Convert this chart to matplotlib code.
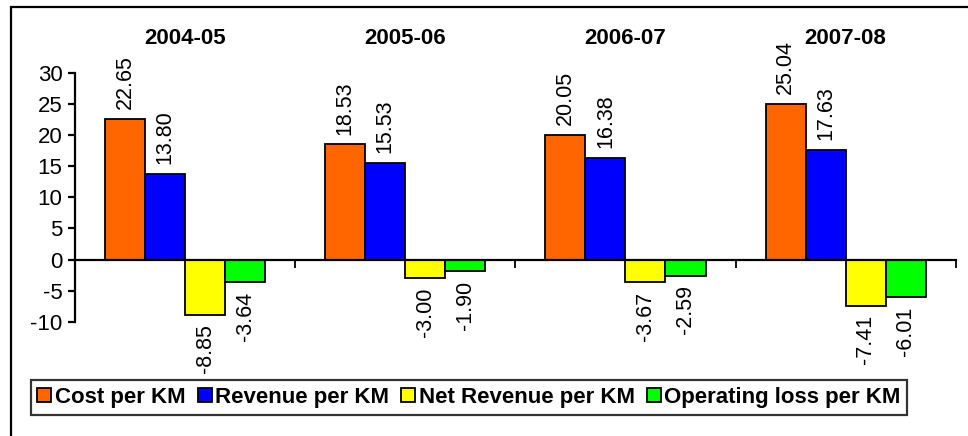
import numpy as np
import matplotlib
matplotlib.use('Agg')
import matplotlib.pyplot as plt
from matplotlib.patches import Rectangle

# data
years = ['2004-05', '2005-06', '2006-07', '2007-08']
cost_per_km = [22.65, 18.53, 20.05, 25.04]
revenue_per_km = [13.80, 15.53, 16.38, 17.63]
net_revenue_per_km = [-8.85, -3.00, -3.67, -7.41]
op_loss_per_km = [-3.64, -1.90, -2.59, -6.01]

series_names = ['Cost per KM', 'Revenue per KM', 'Net Revenue per KM', 'Operating loss per KM']
colors = ['#FF6600', '#0000FF', '#FFFF00', '#00FF00']
yticks = [-10, -5, 0, 5, 10, 15, 20, 25, 30]

plt.rcParams['font.family'] = ['Liberation Sans', 'DejaVu Sans']


def draw_chart():
    fig = plt.figure(figsize=(9.68, 4.36), dpi=100)
    ax = fig.add_axes([0.0775, 0.2622, 0.9098, 0.5704])

    # outer frame, cut off at right and bottom like the source
    fig.patches.append(Rectangle((11 / 968, -0.2), 1.2, 0.2 + 429 / 436,
                                 transform=fig.transFigure, fill=False,
                                 edgecolor='black', linewidth=1.6))

    x = np.arange(len(years))
    w = 0.1818
    data = [cost_per_km, revenue_per_km, net_revenue_per_km, op_loss_per_km]
    bars = []
    for k, vals in enumerate(data):
        b = ax.bar(x + (k - 1.5) * w, vals, w, color=colors[k], edgecolor='black',
                   linewidth=1.3, label=series_names[k], zorder=2)
        bars.append(b)
        for rect, v in zip(b, vals):
            cx = rect.get_x() + rect.get_width() / 2
            if v >= 0:
                ax.annotate('%.2f' % v, (cx, v), xytext=(0, 7), textcoords='offset points',
                            rotation=90, ha='center', va='bottom', fontsize=15.5,
                            annotation_clip=False)
            else:
                ax.annotate('%.2f' % v, (cx, v), xytext=(0, -7), textcoords='offset points',
                            rotation=90, ha='center', va='top', fontsize=15.5,
                            annotation_clip=False)

    # year headings over each group
    for i, y in enumerate(years):
        ax.text(i, 35.6, y, ha='center', va='center', fontsize=16,
                fontweight='bold', clip_on=False)

    ax.set_xlim(-0.5, len(years) - 0.5)
    ax.set_ylim(-10, 30)
    ax.set_yticks(yticks)
    ax.set_yticklabels([str(t) for t in yticks], fontsize=16)
    ax.set_xticks(np.arange(len(years) + 1) - 0.5)
    ax.set_xticklabels([])

    ax.spines['top'].set_visible(False)
    ax.spines['right'].set_visible(False)
    ax.spines['bottom'].set_position(('data', 0))
    ax.spines['left'].set_linewidth(1.6)
    ax.spines['bottom'].set_linewidth(1.6)
    ax.tick_params(axis='y', direction='out', length=5, width=1.6, pad=4)
    ax.tick_params(axis='x', direction='out', length=6, width=1.3)
    ax.patch.set_visible(False)

    leg = fig.legend(handles=bars, labels=series_names, loc='center',
                     bbox_to_anchor=(0.0372, 0.0436, 0.8946, 0.0894), ncol=4,
                     prop={'weight': 'bold', 'size': 16}, frameon=True, fancybox=False,
                     edgecolor='black', handlelength=0.63, handleheight=0.63,
                     handletextpad=0.15, columnspacing=0.55, borderpad=0.3,
                     borderaxespad=0)
    leg.get_frame().set_linewidth(1.6)
    for h in leg.legend_handles:
        h.set_edgecolor('black')
        h.set_linewidth(1.3)

    plt.savefig('out.png', dpi=100)


draw_chart()
